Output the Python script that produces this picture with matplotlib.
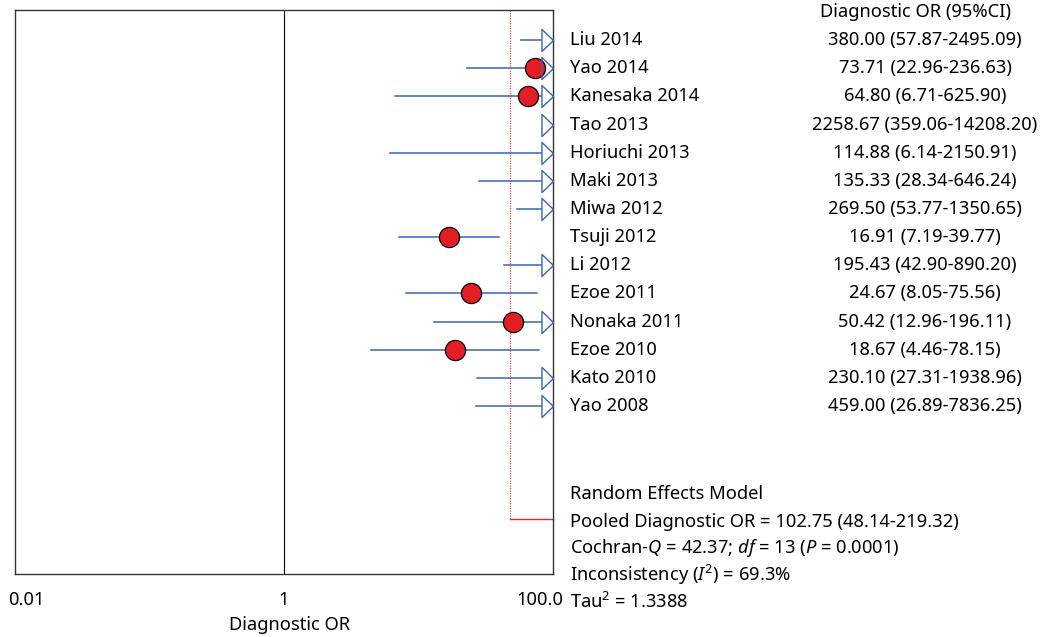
import numpy as np
import matplotlib
matplotlib.use('Agg')
import matplotlib.pyplot as plt
from matplotlib.path import Path

studies = ['Liu 2014', 'Yao 2014', 'Kanesaka 2014', 'Tao 2013', 'Horiuchi 2013',
           'Maki 2013', 'Miwa 2012', 'Tsuji 2012', 'Li 2012', 'Ezoe 2011',
           'Nonaka 2011', 'Ezoe 2010', 'Kato 2010', 'Yao 2008']
dor = [380.00, 73.71, 64.80, 2258.67, 114.88, 135.33, 269.50, 16.91, 195.43,
       24.67, 50.42, 18.67, 230.10, 459.00]
ci_low = [57.87, 22.96, 6.71, 359.06, 6.14, 28.34, 53.77, 7.19, 42.90,
          8.05, 12.96, 4.46, 27.31, 26.89]
ci_high = [2495.09, 236.63, 625.90, 14208.20, 2150.91, 646.24, 1350.65, 39.77,
           890.20, 75.56, 196.11, 78.15, 1938.96, 7836.25]

pooled = 102.75
pooled_low = 48.14
pooled_high = 219.32

stats_lines = [
    'Random Effects Model',
    'Pooled Diagnostic OR = %.2f (%.2f-%.2f)' % (pooled, pooled_low, pooled_high),
    'Cochran-$Q$ = 42.37; $df$ = 13 ($P$ = 0.0001)',
    'Inconsistency ($I^2$) = 69.3%',
    'Tau$^2$ = 1.3388',
]

xmin, xmax = 0.01, 100.0
blue = '#3B64AD'
fs = 13.2

plt.rcParams['font.family'] = ['Noto Sans', 'DejaVu Sans']
plt.rcParams['mathtext.fontset'] = 'custom'
plt.rcParams['mathtext.rm'] = 'Noto Sans'
plt.rcParams['mathtext.it'] = 'Noto Sans:italic'

fig = plt.figure(figsize=(10.45, 6.37), dpi=100)
ax = fig.add_axes([15 / 1045, 1 - 574 / 637, 538 / 1045, 564 / 637])
ax.set_xscale('log')
ax.set_xlim(xmin, xmax)
ax.set_ylim(18.97, -1.07)
ax.set_xticks([])
ax.set_yticks([])
ax.minorticks_off()
for s in ax.spines.values():
    s.set_linewidth(1.0)
    s.set_color('#333333')

# null line
ax.axvline(1, color='black', lw=0.8)

# pooled reference line (drawn at lower bound as in the original)
ax.plot([pooled_low, pooled_low], [-1.07, 17.0], color='#ff4444', lw=0.9,
        linestyle=(0, (1, 1)), zorder=2)
ax.plot([pooled_low, xmax], [17.0, 17.0], color='#ee2222', lw=1.0, zorder=2,
        clip_on=False)

# open arrowhead marker: tip at the data point
arrow = Path([(-12, 11.5), (0, 0), (-12, -11.5), (-12, 11.5)],
             [Path.MOVETO, Path.LINETO, Path.LINETO, Path.CLOSEPOLY])
arrow_len = 12 / 134.5  # decades
arrow_base = xmax / 10 ** arrow_len

for i in range(len(studies)):
    lo = ci_low[i]
    hi = ci_high[i]
    if hi > xmax:
        x0 = min(lo, arrow_base)
        ax.plot([x0, arrow_base], [i, i], color=blue, lw=1.1, zorder=3)
    else:
        ax.plot([lo, hi], [i, i], color=blue, lw=1.1, zorder=3)
    if dor[i] < xmax:
        ax.plot(dor[i], i, 'o', ms=14.5, mfc='#e31e24', mec='black', mew=0.9,
                zorder=4)
    if hi > xmax:
        ax.plot(xmax, i, marker=arrow, ms=16.6, mfc='none', mec=blue, mew=1.0,
                zorder=5, clip_on=False)

# study labels and values
tr = ax.get_yaxis_transform()
name_x = (570 - 15) / 538
val_x = (925 - 15) / 538
ax.text((916 - 15) / 538, -1.0, 'Diagnostic OR (95%CI)', transform=tr,
        ha='center', va='center', fontsize=fs)
for i in range(len(studies)):
    ax.text(name_x, i, studies[i], transform=tr, ha='left', va='center', fontsize=fs)
    ax.text(val_x, i, '%.2f (%.2f-%.2f)' % (dor[i], ci_low[i], ci_high[i]),
            transform=tr, ha='center', va='center', fontsize=fs)

stat_rows = [16.13, 17.12, 18.05, 19.0, 19.96]
for k in range(len(stats_lines)):
    ax.text(name_x, stat_rows[k], stats_lines[k], transform=tr, ha='left',
            va='center', fontsize=fs)

# tick labels
ax.annotate('0.01', xy=(xmin, 0), xycoords=('data', 'axes fraction'),
            xytext=(11, -26), textcoords='offset pixels', ha='center',
            va='center', fontsize=fs, annotation_clip=False)
ax.annotate('1', xy=(1, 0), xycoords=('data', 'axes fraction'),
            xytext=(0, -26), textcoords='offset pixels', ha='center',
            va='center', fontsize=fs, annotation_clip=False)
ax.annotate('100.0', xy=(xmax, 0), xycoords=('data', 'axes fraction'),
            xytext=(10, -26), textcoords='offset pixels', ha='right',
            va='center', fontsize=fs, annotation_clip=False)
ax.annotate('Diagnostic OR', xy=(1, 0), xycoords=('data', 'axes fraction'),
            xytext=(6, -51), textcoords='offset pixels', ha='center',
            va='center', fontsize=fs, annotation_clip=False)

fig.savefig('out.png', dpi=100)
